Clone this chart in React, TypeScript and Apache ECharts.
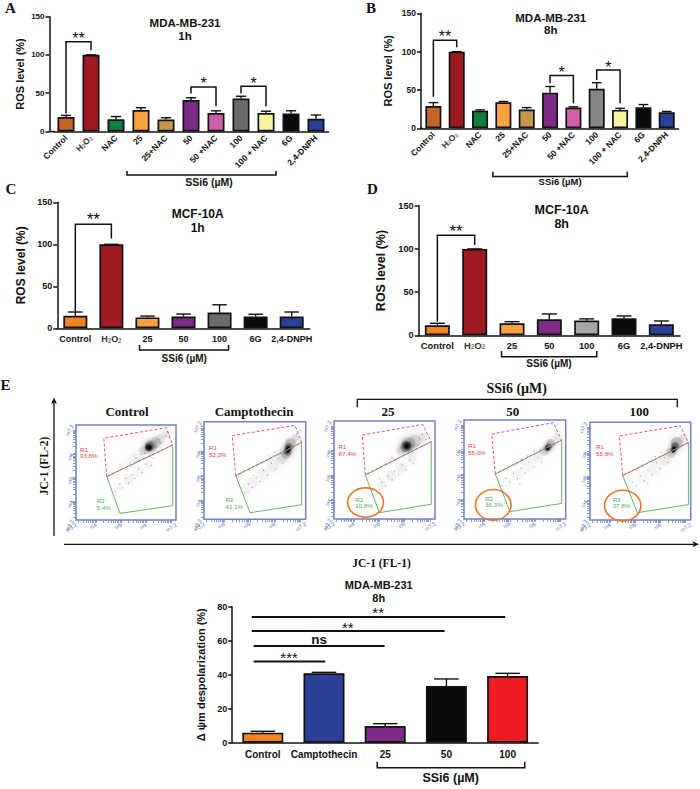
import React, { useEffect, useRef } from "react";
import * as echarts from "echarts";

const SANS = "Liberation Sans";
const SERIF = "Liberation Serif";
const INK = "#111111";

// ---------- colours ----------
const cBrown = "#c4662a", cRed = "#9e1b20", cGreen = "#0f8040", cOrange = "#f9a23f", cTan = "#c8964c";
const cPurple = "#7b2a85", cPink = "#cf5fa8", cGrey = "#6a6b6b", cYellow = "#f9f49f", cBlack = "#0a0a0a", cBlue = "#2b3f96";
const cDeepOrange = "#f58220", cLightGrey = "#a6a7a9", cGrey2 = "#858686", cBright = "#ed1c24";

// ---------- panel A / B ----------
const catsLong = ["Control", "H2O2", "NAC", "25", "25+NAC", "50", "50 +NAC", "100", "100 + NAC", "6G", "2,4-DNPH"];
const valuesA = [19, 100, 16, 28, 15.5, 41, 24, 43, 24, 23.5, 16.5];
const errorsA = [21, 100, 19.5, 31, 18, 44, 27, 46, 26.5, 27, 21.5];
const colorsA = [cBrown, cRed, cGreen, cOrange, cTan, cPurple, cPink, cGrey, cYellow, cBlack, cBlue];
const valuesB = [29, 100, 23, 34, 24.5, 46.5, 27, 51.5, 24, 27.5, 21];
const errorsB = [33.5, 100, 24, 35, 27, 54.5, 28, 59.5, 26, 31, 22];
const colorsB = [cBrown, cRed, cGreen, cOrange, cTan, cPurple, cPink, cGrey2, cYellow, cBlack, cBlue];

// ---------- panel C / D ----------
const catsShort = ["Control", "H2O2", "25", "50", "100", "6G", "2,4-DNPH"];
const valuesC = [15, 100, 13, 14, 18.7, 14, 14];
const errorsC = [19.4, 100, 14.5, 17, 28, 16.7, 19.4];
const colorsC = [cDeepOrange, cRed, cOrange, cPurple, cGrey, cBlack, cBlue];
const valuesD = [11.6, 100, 14, 18.5, 17, 19.7, 12.7];
const errorsD = [13.9, 100, 15.8, 24.7, 19, 22.4, 16.6];
const colorsD = [cDeepOrange, cRed, cOrange, cPurple, cLightGrey, cBlack, cBlue];

// ---------- bottom panel ----------
const catsF = ["Control", "Camptothecin", "25", "50", "100"];
const valuesF = [5.9, 40.8, 9.8, 33.3, 39.2];
const errorsF = [6.7, 41.4, 11.2, 37.5, 40.8];
const colorsF = [cDeepOrange, cBlue, cPurple, cBlack, cBright];

const ssi = "SSi6 (\u00b5M)";
const bracketsA = [
  { x1: 0, x2: 1, top: 117, y1: 23.5, y2: 106, label: "**", labelX: 0.5, labelY: 124, size: 16 },
  { x1: 5, x2: 6, top: 58, y1: 49.5, y2: 33, label: "*", labelX: 5.5, labelY: 65, size: 16 },
  { x1: 7, x2: 8, top: 59, y1: 49.5, y2: 33, label: "*", labelX: 7.5, labelY: 65, size: 16 },
  { x1: 2.44, x2: 8.4, top: -56.7, y1: -51.5, y2: -51.5, label: ssi, labelX: 5.72, labelY: -65.8, size: 10.5 },
];
const bracketsB = [
  { x1: 0, x2: 1, top: 115, y1: 41, y2: 105.6, label: "**", labelX: 0.5, labelY: 122, size: 16 },
  { x1: 5, x2: 6, top: 69, y1: 58.7, y2: 32.6, label: "*", labelX: 5.5, labelY: 75, size: 16 },
  { x1: 7, x2: 8, top: 76, y1: 63, y2: 32.6, label: "*", labelX: 7.5, labelY: 82, size: 16 },
  { x1: 2.55, x2: 8.31, top: -63, y1: -56.6, y2: -56.6, label: ssi, labelX: 5.43, labelY: -69.6, size: 9.5 },
];
const bracketsC = [
  { x1: 0, x2: 1, top: 124, y1: 19.8, y2: 107, label: "**", labelX: 0.5, labelY: 132, size: 17 },
  { x1: 1.78, x2: 4.25, top: -25.8, y1: -19.9, y2: -19.9, label: ssi, labelX: 3.02, labelY: -35.7, size: 10 },
];
const bracketsD = [
  { x1: 0, x2: 1, top: 115.7, y1: 15.8, y2: 104.5, label: "**", labelX: 0.5, labelY: 122, size: 17 },
  { x1: 1.72, x2: 4.27, top: -24.8, y1: -18.2, y2: -18.2, label: ssi, labelX: 2.99, labelY: -33.2, size: 10 },
];
const bracketsF = [
  { x1: -0.18, x2: 3.96, top: 74, y1: 74, y2: 74, label: "**", labelX: 1.885, labelY: 77.6, size: 15, lw: 2 },
  { x1: -0.18, x2: 2.97, top: 65.7, y1: 65.7, y2: 65.7, label: "**", labelX: 1.39, labelY: 68.6, size: 15, lw: 2 },
  { x1: -0.15, x2: 1.99, top: 56.9, y1: 56.9, y2: 56.9, label: "ns", labelX: 0.92, labelY: 60.8, size: 13.5, lw: 2 },
  { x1: -0.15, x2: 1.02, top: 47.8, y1: 47.8, y2: 47.8, label: "***", labelX: 0.43, labelY: 51, size: 15, lw: 2 },
  { x1: 1.87, x2: 4.28, top: -14.7, y1: -11.2, y2: -11.2, label: ssi, labelX: 3.07, labelY: -20.9, size: 12.5 },
];

// ---------- flow cytometry panels (log10 fluorescence) ----------
const flowTitles = ["Control", "Camptothecin", "25", "50", "100"];
const flowR1 = ["93,8%", "52,2%", "87,4%", "55,0%", "55,8%"];
const flowR2 = ["5,4%", "41,1%", "10,8%", "36,3%", "37,8%"];
const redGate = [
  [[4.43, 5.03], [4.31, 6.64], [6.8, 7.09], [7.07, 6.36]],
  [[4.45, 4.99], [4.31, 6.63], [6.78, 7.05], [7.04, 6.35]],
  [[4.44, 5.0], [4.32, 6.63], [6.71, 7.06], [7.05, 6.36]],
  [[4.43, 5.02], [4.29, 6.63], [6.71, 7.09], [7.04, 6.39]],
  [[4.5, 5.02], [4.37, 6.64], [6.78, 7.06], [7.11, 6.37]],
];
const greenGate = [
  [[4.43, 5.03], [7.07, 6.36], [7.07, 3.8], [4.96, 3.48]],
  [[4.45, 4.99], [7.04, 6.35], [7.04, 3.8], [5.01, 3.47]],
  [[4.44, 5.0], [7.05, 6.36], [7.05, 3.8], [5.0, 3.46]],
  [[4.43, 5.02], [7.04, 6.39], [7.04, 3.83], [5.01, 3.5]],
  [[4.5, 5.02], [7.11, 6.37], [7.11, 3.83], [5.08, 3.5]],
];
const r1Anchor = [[3.36, 6.05], [3.4, 6.01], [3.38, 6.02], [3.36, 6.03], [3.44, 6.07]];
const r2Anchor = [[4.03, 3.87], [4.05, 3.86], [4.04, 3.87], [4.03, 3.9], [4.1, 3.92]];
const circles: (number[] | null)[] = [null, null, [4.45, 3.87, 0.71, 0.6], [4.35, 3.77, 0.7, 0.62], [4.5, 3.79, 0.72, 0.63]];

// [x, y, size in px, opacity]
const blobs = [
  [[6.12, 6.26, 3, 0.9], [6.12, 6.26, 5, 0.6], [6.1, 6.24, 7, 0.4], [6.15, 6.3, 9, 0.25], [6.2, 6.33, 12, 0.14], [6.38, 6.45, 11, 0.1], [6.55, 6.6, 10, 0.07], [6.8, 6.8, 8, 0.05], [5.88, 6.12, 9, 0.08], [5.55, 5.8, 11, 0.03], [5.2, 5.45, 11, 0.02], [4.95, 4.6, 9, 0.02], [5.3, 4.9, 11, 0.03], [5.7, 5.25, 11, 0.03], [6.1, 5.55, 9, 0.03]],
  [[6.52, 6.12, 3, 0.9], [6.48, 5.98, 3, 0.8], [6.5, 6.05, 5, 0.5], [6.53, 6.15, 8, 0.3], [6.48, 5.98, 8, 0.25], [6.6, 6.3, 11, 0.16], [6.43, 5.88, 10, 0.15], [6.8, 6.55, 8, 0.07], [6.25, 5.7, 11, 0.06], [5.9, 5.4, 13, 0.04], [5.5, 5.05, 13, 0.03], [5.1, 4.7, 12, 0.03], [4.85, 4.35, 9, 0.03]],
  [[6.08, 6.18, 3.5, 0.9], [6.08, 6.18, 5.5, 0.6], [6.1, 6.2, 8, 0.35], [6.05, 6.15, 11, 0.22], [6.15, 6.25, 14, 0.14], [6.4, 6.38, 13, 0.1], [6.7, 6.55, 9, 0.06], [5.85, 6.0, 9, 0.08], [5.5, 5.65, 10, 0.02], [5.1, 4.6, 9, 0.03], [5.45, 4.95, 11, 0.04], [5.85, 5.3, 11, 0.04], [6.3, 5.65, 10, 0.03]],
  [[6.48, 6.06, 3, 0.9], [6.48, 6.06, 4.5, 0.55], [6.52, 6.12, 7, 0.3], [6.62, 6.25, 9, 0.16], [6.38, 5.95, 9, 0.1], [6.85, 6.5, 7, 0.06], [6.1, 5.7, 11, 0.035], [5.7, 5.35, 13, 0.025], [5.3, 5.0, 13, 0.02], [4.9, 4.7, 10, 0.02]],
  [[6.54, 6.13, 3, 0.9], [6.5, 6.03, 3, 0.8], [6.53, 6.1, 5, 0.5], [6.58, 6.22, 8, 0.32], [6.65, 6.35, 12, 0.16], [6.42, 5.95, 10, 0.13], [6.9, 6.55, 8, 0.06], [6.15, 5.65, 11, 0.04], [5.75, 5.3, 13, 0.03], [5.3, 4.95, 13, 0.025], [4.85, 4.45, 9, 0.025]],
];
const specks = [
  [[5.2, 5.35], [5.35, 5.6], [5.5, 5.55], [5.6, 5.8], [5.7, 5.7], [5.8, 5.95], [5.95, 6.0], [6.4, 6.3], [6.5, 6.6], [6.6, 6.45], [6.8, 6.75], [6.9, 6.9], [4.8, 4.4], [4.95, 4.7], [5.05, 4.55], [5.2, 4.95], [5.3, 4.75], [5.45, 5.1], [5.55, 4.95], [5.7, 5.35], [5.85, 5.2], [6.0, 5.55], [6.2, 5.5], [6.3, 5.8]],
  [[5.0, 5.2], [5.25, 5.4], [5.5, 5.55], [5.75, 5.8], [6.0, 5.95], [6.2, 6.05], [6.85, 6.7], [7.0, 6.85], [4.8, 4.3], [4.95, 4.65], [5.1, 4.5], [5.25, 4.9], [5.4, 4.75], [5.55, 5.2], [5.7, 5.0], [5.85, 5.5], [6.0, 5.25], [6.15, 5.7], [6.3, 5.5], [5.15, 5.0]],
  [[5.3, 5.45], [5.5, 5.7], [5.7, 5.65], [5.9, 5.95], [6.5, 6.2], [6.7, 6.65], [6.85, 6.45], [5.0, 4.4], [5.1, 4.7], [5.25, 4.55], [5.35, 4.95], [5.5, 4.8], [5.6, 5.15], [5.75, 5.0], [5.9, 5.4], [6.05, 5.2], [6.2, 5.6], [6.35, 5.45], [5.0, 4.85]],
  [[4.9, 5.2], [5.2, 5.4], [5.45, 5.6], [5.7, 5.75], [5.95, 5.95], [6.2, 6.0], [6.85, 6.65], [4.7, 4.55], [4.85, 4.85], [5.0, 4.7], [5.15, 5.05], [5.3, 4.85], [5.45, 5.25], [5.6, 5.05], [5.75, 5.5], [5.95, 5.3], [6.1, 5.7], [6.25, 5.5], [5.4, 4.6]],
  [[5.05, 5.25], [5.3, 5.4], [5.55, 5.6], [5.8, 5.8], [6.05, 5.95], [6.25, 6.05], [6.95, 6.7], [4.75, 4.4], [4.9, 4.75], [5.05, 4.6], [5.2, 5.0], [5.35, 4.8], [5.5, 5.25], [5.65, 5.05], [5.85, 5.55], [6.0, 5.3], [6.15, 5.75], [6.3, 5.55], [5.5, 4.7]],
];
const flowMajor = [3.2, 4, 5, 6, 7.2];
const decades = [3, 4, 5, 6, 7];
const decadeSteps = [0.3, 0.48, 0.6, 0.7, 0.78, 0.85, 0.9, 0.95];

// ---------- layout (pixels) ----------
const barLayouts = [
  { left: 53.5, top: 16.5, width: 275, height: 115, yMax: 150, yStep: 50, off: 4, barW: 17, name: "ROS level (%)", nameSize: 11, gap: 24.5, tick: 8, lab: 8.5, rot: 45, margin: 5 },
  { left: 421.7, top: 13.3, width: 256.7, height: 115, yMax: 150, yStep: 50, off: 0.7, barW: 16, name: "ROS level (%)", nameSize: 11, gap: 27.7, tick: 8.5, lab: 8.5, rot: 45, margin: 5 },
  { left: 57.3, top: 202.3, width: 252.4, height: 126, yMax: 150, yStep: 50, off: 0, barW: 24, name: "ROS level (%)", nameSize: 12, gap: 30.6, tick: 9, lab: 9, rot: 0, margin: 6 },
  { left: 418.7, top: 205.7, width: 261.3, height: 129.6, yMax: 150, yStep: 50, off: 0, barW: 25, name: "ROS level (%)", nameSize: 12.5, gap: 31, tick: 9.2, lab: 9.3, rot: 0, margin: 6 },
  { left: 232.2, top: 606.7, width: 306, height: 136, yMax: 80, yStep: 20, off: 0, barW: 41, name: "\u0394 \u03c8m despolarization (%)", nameSize: 11, gap: 25.6, tick: 9, lab: 10, rot: 0, margin: 7 },
];
const barPanels = [
  { cats: catsLong, vals: valuesA, errs: errorsA, cols: colorsA, br: bracketsA },
  { cats: catsLong, vals: valuesB, errs: errorsB, cols: colorsB, br: bracketsB },
  { cats: catsShort, vals: valuesC, errs: errorsC, cols: colorsC, br: bracketsC },
  { cats: catsShort, vals: valuesD, errs: errorsD, cols: colorsD, br: bracketsD },
  { cats: catsF, vals: valuesF, errs: errorsF, cols: colorsF, br: bracketsF },
];
const flowRects = [
  { left: 76, top: 425, width: 100, height: 95 },
  { left: 204, top: 421.7, width: 101.7, height: 97.6 },
  { left: 334, top: 421, width: 101, height: 98 },
  { left: 464, top: 420, width: 101.7, height: 99 },
  { left: 590, top: 422.3, width: 100.7, height: 97.7 },
];
const flowTitleX = [127, 254, 388, 512.7, 639.3];
const chartTitles = [
  { text: "MDA-MB-231\n1h", x: 185, y: 16.5, size: 11.5, lh: 13 },
  { text: "MDA-MB-231\n8h", x: 550.7, y: 11.5, size: 11.5, lh: 12.5 },
  { text: "MCF-10A\n1h", x: 197.7, y: 206.5, size: 12, lh: 14 },
  { text: "MCF-10A\n8h", x: 561.7, y: 203, size: 12.5, lh: 14.3 },
  { text: "MDA-MB-231\n8h", x: 378.7, y: 578, size: 11, lh: 13.4 },
];
const panelLetters = [
  { t: "A", x: 5, y: 8 },
  { t: "B", x: 366, y: 8 },
  { t: "C", x: 5.5, y: 189 },
  { t: "D", x: 367, y: 189 },
  { t: "E", x: 0.5, y: 385 },
];

function buildOption() {
  const grid: any[] = [], xAxis: any[] = [], yAxis: any[] = [], series: any[] = [], graphic: any[] = [];

  barPanels.forEach((p, k) => {
    const L = barLayouts[k];
    const idx = grid.length;
    grid.push({ left: L.left, top: L.top, width: L.width, height: L.height });
    xAxis.push({
      gridIndex: idx, type: "category", data: p.cats,
      axisLine: { lineStyle: { color: INK, width: 1.5 } },
      axisTick: { alignWithLabel: true, length: 4, lineStyle: { color: INK, width: 1.5 } },
      axisLabel: {
        interval: 0, rotate: L.rot, margin: L.margin, color: INK, fontFamily: SANS, fontWeight: "bold", fontSize: L.lab,
        formatter: (v: string) => (v === "H2O2" ? "{n|H}{s|2}{n|O}{s|2}" : v),
        rich: {
          n: { fontFamily: SANS, fontSize: L.lab, color: "#333" },
          s: { fontFamily: SANS, fontSize: L.lab * 0.7, color: "#777", verticalAlign: "bottom" },
        },
      },
    });
    yAxis.push({
      gridIndex: idx, type: "value", min: 0, max: L.yMax, interval: L.yStep, offset: L.off,
      name: L.name, nameLocation: "middle", nameGap: L.gap,
      nameTextStyle: { fontFamily: SANS, fontWeight: "bold", fontSize: L.nameSize, color: INK },
      axisLine: { show: true, lineStyle: { color: INK, width: 1.5 } },
      axisTick: { show: true, length: 4, lineStyle: { color: INK, width: 1.5 } },
      axisLabel: { margin: 5, color: INK, fontFamily: SANS, fontWeight: "bold", fontSize: L.tick },
      splitLine: { show: false },
    });
    if (L.off > 0) {
      graphic.push({
        type: "line", silent: true,
        shape: { x1: L.left - L.off - 0.7, y1: L.top + L.height, x2: L.left + 1, y2: L.top + L.height },
        style: { stroke: INK, lineWidth: 1.5 },
      });
    }
    // error bars first, so that the bars sit on their stems
    series.push({
      type: "custom", xAxisIndex: idx, yAxisIndex: idx, z: 2, silent: true,
      data: p.errs.map((e, i) => [i, e, p.vals[i]]),
      encode: { x: 0, y: 1 },
      renderItem: (_: any, api: any) => {
        const i = api.value(0), e = api.value(1), v = api.value(2);
        const a = api.coord([i, v]), b = api.coord([i, e]);
        const cap = L.barW * 0.3;
        return {
          type: "group",
          children: [
            { type: "line", shape: { x1: a[0], y1: a[1], x2: b[0], y2: b[1] }, style: { stroke: INK, lineWidth: 1.4 } },
            { type: "line", shape: { x1: b[0] - cap, y1: b[1], x2: b[0] + cap, y2: b[1] }, style: { stroke: INK, lineWidth: 1.4 } },
          ],
        };
      },
    });
    series.push({
      type: "bar", xAxisIndex: idx, yAxisIndex: idx, z: 3, silent: true, barWidth: L.barW,
      data: p.vals.map((v, i) => ({ value: v, itemStyle: { color: p.cols[i] } })),
      itemStyle: { borderColor: INK, borderWidth: 1.7 },
    });
    series.push({
      type: "custom", xAxisIndex: idx, yAxisIndex: idx, z: 4, silent: true, clip: false,
      data: p.br.map(() => [0, 0]),
      renderItem: (params: any, api: any) => {
        const b: any = p.br[params.dataIndex];
        const at = (x: number, y: number) => {
          const c0 = api.coord([0, y]), c1 = api.coord([1, y]);
          return [c0[0] + (c1[0] - c0[0]) * x, c0[1]];
        };
        const c1 = at(b.x1, b.y1), c2 = at(b.x1, b.top), c3 = at(b.x2, b.top), c4 = at(b.x2, b.y2);
        const t = at(b.labelX, b.labelY);
        const star = b.label.includes("*");
        return {
          type: "group",
          children: [
            { type: "polyline", shape: { points: [c1, c2, c3, c4] }, style: { stroke: INK, fill: "none", lineWidth: b.lw || 1.5 } },
            {
              type: "text",
              style: {
                text: b.label, x: t[0], y: t[1] + (star ? b.size * 0.12 : 0), align: "center", verticalAlign: "middle",
                font: `${star ? "normal" : "bold"} ${b.size}px "${SANS}"`, fill: INK,
              },
            },
          ],
        };
      },
    });
  });

  const titles: any[] = chartTitles.map((t) => ({
    text: t.text, left: t.x, top: t.y, textAlign: "center", padding: 0,
    textStyle: { fontFamily: SANS, fontWeight: "bold", fontSize: t.size, lineHeight: t.lh, color: INK },
  }));

  const minorTicks = decades.flatMap((d) => [0, ...decadeSteps].map((s) => d + s)).filter((v) => v >= 3.2 && v <= 7.2);

  flowRects.forEach((r, k) => {
    const idx = grid.length;
    grid.push({ ...r, show: true, borderColor: "#7080c4", borderWidth: 1.5, backgroundColor: "#ffffff" });
    const axisCommon = {
      gridIndex: idx, type: "value", min: 3.2, max: 7.2, splitLine: { show: false },
      axisLine: { show: false },
      axisTick: { show: true, length: 3, customValues: minorTicks, lineStyle: { color: "#7080c4", width: 0.8 } },
    };
    const labelCommon = {
      customValues: flowMajor, margin: 4, showMinLabel: true, showMaxLabel: true, hideOverlap: false,
      color: "#5566b0", fontFamily: SANS, fontSize: 4.5,
      formatter: (v: number) => `{b|10}{e|${v}}`,
      rich: {
        b: { fontFamily: SANS, fontSize: 4, color: "#5566b0" },
        e: { fontFamily: SANS, fontSize: 5.5, color: "#5566b0", verticalAlign: "top" },
      },
    };
    xAxis.push({ ...axisCommon, axisLabel: { ...labelCommon, rotate: 35 } });
    yAxis.push({ ...axisCommon, axisLabel: { ...labelCommon, rotate: 65 } });

    series.push({
      type: "scatter", xAxisIndex: idx, yAxisIndex: idx, z: 2, silent: true, symbol: "circle",
      data: blobs[k].map((b) => ({
        value: [b[0], b[1]], symbolSize: b[2],
        itemStyle: { color: "#111", opacity: b[3], shadowBlur: b[2] * 0.7, shadowColor: "#111" },
      })),
    });
    series.push({
      type: "scatter", xAxisIndex: idx, yAxisIndex: idx, z: 2, silent: true, symbol: "circle", symbolSize: 1.1,
      itemStyle: { color: "#555", opacity: 0.6 },
      data: specks[k],
    });
    series.push({
      type: "custom", xAxisIndex: idx, yAxisIndex: idx, z: 3, silent: true, clip: false,
      data: [[5, 5]],
      renderItem: (_: any, api: any) => {
        const children: any[] = [
          { type: "polygon", shape: { points: greenGate[k].map((q) => api.coord(q)) }, style: { stroke: "#66b366", fill: "none", lineWidth: 1 } },
          { type: "polygon", shape: { points: redGate[k].map((q) => api.coord(q)) }, style: { stroke: "#e8506a", fill: "none", lineWidth: 1, lineDash: [3, 2] } },
          {
            type: "text",
            style: {
              text: `R1\n${flowR1[k]}`, x: api.coord(r1Anchor[k])[0], y: api.coord(r1Anchor[k])[1], align: "left", verticalAlign: "middle",
              font: `6.2px "${SANS}"`, lineHeight: 6.6, fill: "#e8405a",
            },
          },
          {
            type: "text",
            style: {
              text: `R2\n${flowR2[k]}`, x: api.coord(r2Anchor[k])[0], y: api.coord(r2Anchor[k])[1], align: "left", verticalAlign: "middle",
              font: `6.2px "${SANS}"`, lineHeight: 6.6, fill: "#4fae58",
            },
          },
        ];
        const c = circles[k];
        if (c) {
          const o = api.coord([c[0], c[1]]), e = api.coord([c[0] + c[2], c[1] + c[3]]);
          children.push({
            type: "ellipse",
            shape: { cx: o[0], cy: o[1], rx: e[0] - o[0], ry: o[1] - e[1] },
            style: { stroke: "#e8772e", fill: "none", lineWidth: 1.6 },
          });
        }
        return { type: "group", children };
      },
    });
    titles.push({
      text: flowTitles[k], left: flowTitleX[k], top: 404.5, textAlign: "center", padding: 0,
      textStyle: { fontFamily: SERIF, fontWeight: "bold", fontSize: 13, color: INK },
    });
  });

  titles.push({
    text: ssi, left: 516.7, top: 381.5, textAlign: "center", padding: 0,
    textStyle: { fontFamily: SERIF, fontWeight: "bold", fontSize: 14, color: INK },
  });

  const serifText = (text: string, x: number, y: number, size: number, rotation = 0, align = "center") => ({
    type: "text", x, y, rotation, silent: true,
    style: { text, align, verticalAlign: "middle", font: `bold ${size}px "${SERIF}"`, fill: INK },
  });
  panelLetters.forEach((l) => graphic.push(serifText(l.t, l.x, l.y, 15, 0, "left")));
  graphic.push(serifText("JC-1 (FL-2)", 44, 466, 11.5, Math.PI / 2));
  graphic.push(serifText("JC-1 (FL-1)", 381.5, 563, 11.5));

  // large JC-1 arrows and the SSi6 bracket over the three dose panels
  graphic.push(
    { type: "line", silent: true, shape: { x1: 54, y1: 535.7, x2: 54, y2: 402 }, style: { stroke: INK, lineWidth: 1.3 } },
    { type: "polygon", silent: true, shape: { points: [[54, 397.5], [51, 404], [54, 402.5], [57, 404]] }, style: { fill: INK } },
    { type: "line", silent: true, shape: { x1: 64, y1: 544.3, x2: 695, y2: 544.3 }, style: { stroke: INK, lineWidth: 1.3 } },
    { type: "polygon", silent: true, shape: { points: [[699, 544.3], [692.5, 541.3], [694, 544.3], [692.5, 547.3]] }, style: { fill: INK } },
    { type: "polyline", silent: true, shape: { points: [[357.3, 407.3], [357.3, 399.3], [677.3, 399.3], [677.3, 407.3]] }, style: { stroke: INK, fill: "none", lineWidth: 1.3 } },
  );

  return { animation: false, backgroundColor: "#ffffff", title: titles, grid, xAxis, yAxis, series, graphic };
}

export default function App() {
  const ref = useRef<HTMLDivElement>(null);
  useEffect(() => {
    document.body.style.margin = "0";
    const chart = echarts.init(ref.current!, undefined, { renderer: "svg" });
    chart.setOption(buildOption() as any);
    return () => chart.dispose();
  }, []);
  return <div ref={ref} style={{ width: 700, height: 789 }} />;
}
